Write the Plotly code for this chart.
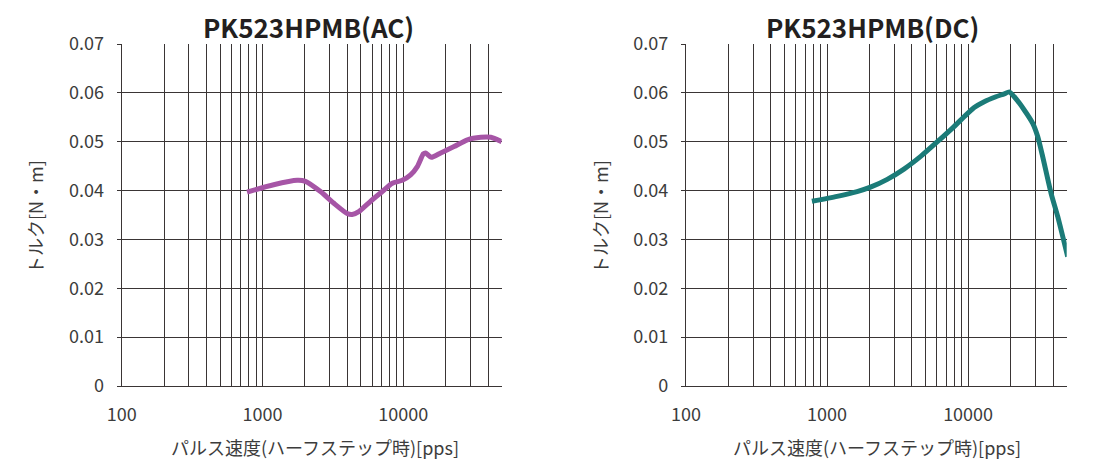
import plotly.graph_objects as go

# ---- data ----
ac_speed = [776, 1200, 1762, 2018, 2582, 3213, 3993, 4335, 4831, 5848, 7090, 8360,
            9840, 11270, 12580, 13880, 14420, 15820, 18440, 22940, 28560, 35510, 41860, 50000]
ac_torque = [0.0397, 0.0412, 0.0421, 0.0419, 0.0398, 0.0374, 0.0353, 0.0351, 0.0357,
             0.0378, 0.0398, 0.0415, 0.0421, 0.0432, 0.0449, 0.0475, 0.0477, 0.0468,
             0.0477, 0.0490, 0.0504, 0.0509, 0.0509, 0.0500]

dc_speed = [781, 1178, 1633, 2032, 2672, 3510, 4612, 6057, 7950, 9370, 11040, 13000,
            15740, 18030, 19560, 21240, 25000, 28660, 31110, 33750, 38710, 43180, 46880, 50800]
dc_torque = [0.0378, 0.0388, 0.0398, 0.0407, 0.0423, 0.0444, 0.0470, 0.0500, 0.0531,
             0.0551, 0.0570, 0.0582, 0.0592, 0.0598, 0.0602, 0.0592, 0.0565, 0.0538,
             0.0511, 0.0470, 0.0395, 0.0347, 0.0306, 0.0265]

titles = ["PK523HPMB(AC)", "PK523HPMB(DC)"]
x_major = [100, 1000, 10000]
x_major_labels = ["100", "1000", "10000"]
x_minor = [m * d for d in (100, 1000, 10000) for m in range(2, 10)]
y_ticks = [0, 0.01, 0.02, 0.03, 0.04, 0.05, 0.06, 0.07]
y_labels = ["0", "0.01", "0.02", "0.03", "0.04", "0.05", "0.06", "0.07"]
x_title = "パルス速度(ハーフステップ時)[pps]"
y_title = "トルク[N・m]"

FONT = "Noto Sans CJK JP, Noto Sans, sans-serif"
GRID = "#3a3535"
TXT = "#3c3c3c"

fig = go.Figure()
fig.add_trace(go.Scatter(x=ac_speed, y=ac_torque, mode="lines",
                         line=dict(color="#a655a6", width=5, shape="spline", smoothing=0.6),
                         xaxis="x", yaxis="y", showlegend=False, cliponaxis=True))
fig.add_trace(go.Scatter(x=dc_speed, y=dc_torque, mode="lines",
                         line=dict(color="#1b7b78", width=5, shape="spline", smoothing=0.6),
                         xaxis="x2", yaxis="y2", showlegend=False, cliponaxis=True))

# page has an 8px body margin: lay out in (reference px - 8)
OFF = 8
W, H = 1092, 452

def fx(px):
    return (px - OFF) / W

def fy(py):
    return 1 - (py - OFF) / H

doms = [(fx(121.7), fx(501.7)), (fx(686.0), fx(1066.7))]
ydom = (fy(386.0), fy(44.0))

def xaxis(dom, anchor):
    return dict(type="log", domain=list(dom), anchor=anchor, automargin=False,
                range=[2, 4.699], tickmode="array", tickvals=x_major, ticktext=x_major_labels,
                showgrid=True, gridcolor=GRID, gridwidth=1,
                minor=dict(tickmode="array", tickvals=x_minor, showgrid=True,
                           gridcolor=GRID, gridwidth=1, ticks=""),
                showline=True, linecolor=GRID, linewidth=1.2,
                ticks="", ticklabelstandoff=12,
                tickfont=dict(family=FONT, size=18, color=TXT), zeroline=False)

def yaxis(dom, anchor):
    return dict(domain=list(dom), anchor=anchor, range=[0, 0.07], automargin=False,
                tickmode="array", tickvals=y_ticks, ticktext=y_labels,
                showgrid=True, gridcolor=GRID, gridwidth=1,
                showline=True, linecolor=GRID, linewidth=1.2,
                ticks="outside", ticklen=4, tickcolor=GRID, ticklabelstandoff=9,
                tickfont=dict(family=FONT, size=18, color=TXT), zeroline=False)

fig.update_layout(
    width=W, height=H, margin=dict(l=0, r=0, t=0, b=0, pad=0), autosize=False,
    paper_bgcolor="white", plot_bgcolor="white",
    xaxis=xaxis(doms[0], "y"), yaxis=yaxis(ydom, "x"),
    xaxis2=xaxis(doms[1], "y2"), yaxis2=yaxis(ydom, "x2"),
)

anns = []
title_cx = [308, 872]
xt_cx = [315, 877]
for i, (d0, d1) in enumerate(doms):
    anns.append(dict(text="<b>" + titles[i] + "</b>", x=fx(title_cx[i]), y=fy(26.5),
                     xref="paper", yref="paper", showarrow=False, borderpad=0,
                     font=dict(family=FONT, size=26, color="#231f20"),
                     xanchor="center", yanchor="middle"))
    anns.append(dict(text=x_title, x=fx(xt_cx[i]), y=fy(447),
                     xref="paper", yref="paper", showarrow=False,
                     font=dict(family=FONT, size=18, color=TXT),
                     xanchor="center", yanchor="middle"))
    anns.append(dict(text=y_title, x=fx(35 + (565 if i else 0)), y=fy(217),
                     xref="paper", yref="paper", showarrow=False, textangle=-90,
                     font=dict(family=FONT, size=18, color=TXT),
                     xanchor="center", yanchor="middle"))
fig.update_layout(annotations=anns)

fig.write_html("out.html")
